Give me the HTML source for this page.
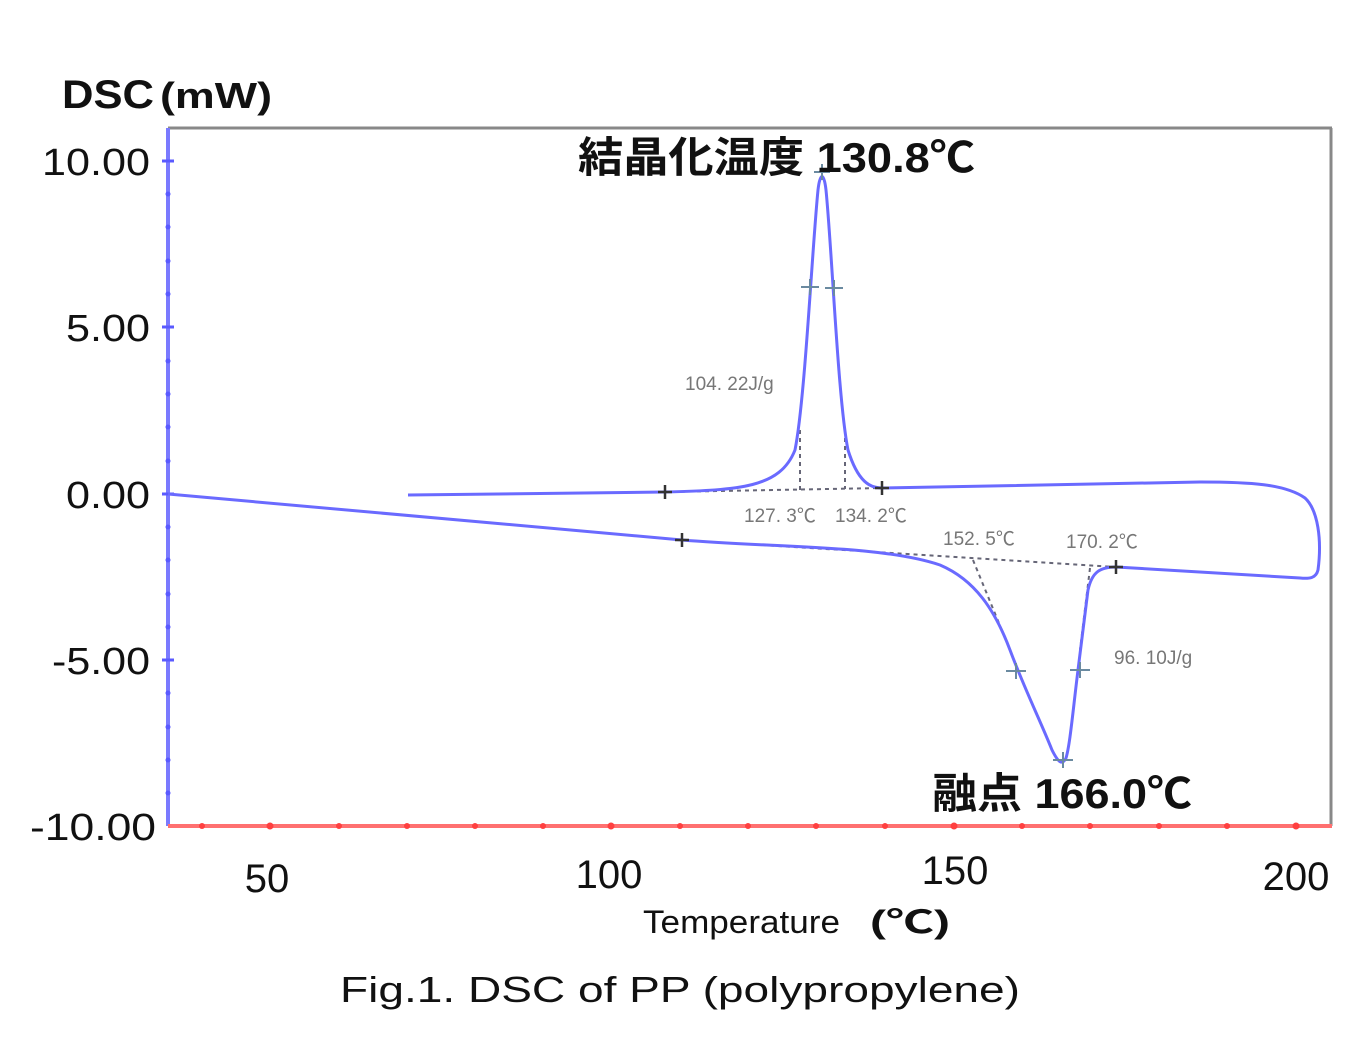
<!DOCTYPE html>
<html><head><meta charset="utf-8"><style>
html,body{margin:0;padding:0;background:#fff;}
svg{display:block;}
</style></head><body>
<svg width="1366" height="1044" viewBox="0 0 1366 1044" xmlns="http://www.w3.org/2000/svg" font-family="Liberation Sans, Noto Sans CJK JP, sans-serif">
<line x1="168" y1="128" x2="1332" y2="128" stroke="#888" stroke-width="3"/>
<line x1="1331" y1="128" x2="1331" y2="826" stroke="#888" stroke-width="3"/>
<line x1="168" y1="128" x2="168" y2="826" stroke="#7a7aff" stroke-width="4"/>
<g stroke="#5a5aff" stroke-width="3">
<line x1="162" y1="161" x2="174" y2="161"/><line x1="162" y1="327" x2="174" y2="327"/>
<line x1="162" y1="494" x2="174" y2="494"/><line x1="162" y1="660" x2="174" y2="660"/>
</g>
<g fill="#5a5aff">
<circle cx="168" cy="194" r="2.5"/><circle cx="168" cy="227" r="2.5"/><circle cx="168" cy="261" r="2.5"/><circle cx="168" cy="294" r="2.5"/>
<circle cx="168" cy="361" r="2.5"/><circle cx="168" cy="394" r="2.5"/><circle cx="168" cy="427" r="2.5"/><circle cx="168" cy="461" r="2.5"/>
<circle cx="168" cy="527" r="2.5"/><circle cx="168" cy="560" r="2.5"/><circle cx="168" cy="594" r="2.5"/><circle cx="168" cy="627" r="2.5"/>
<circle cx="168" cy="693" r="2.5"/><circle cx="168" cy="727" r="2.5"/><circle cx="168" cy="760" r="2.5"/><circle cx="168" cy="793" r="2.5"/>
</g>
<line x1="168" y1="826" x2="1332" y2="826" stroke="#ff7070" stroke-width="4"/>
<g fill="#ff4040">
<circle cx="202" cy="826" r="3"/><circle cx="270" cy="826" r="3.5"/><circle cx="339" cy="826" r="3"/><circle cx="407" cy="826" r="3"/><circle cx="475" cy="826" r="3"/><circle cx="543" cy="826" r="3"/><circle cx="611" cy="826" r="3.5"/><circle cx="680" cy="826" r="3"/><circle cx="748" cy="826" r="3"/><circle cx="816" cy="826" r="3"/><circle cx="885" cy="826" r="3"/><circle cx="954" cy="826" r="3.5"/><circle cx="1022" cy="826" r="3"/><circle cx="1090" cy="826" r="3"/><circle cx="1159" cy="826" r="3"/><circle cx="1227" cy="826" r="3"/><circle cx="1296" cy="826" r="3.5"/>
</g>
<text x="62" y="108" font-size="40" font-weight="bold" fill="#111" textLength="92" lengthAdjust="spacingAndGlyphs">DSC</text>
<text x="160" y="108" font-size="36" font-weight="bold" fill="#111" textLength="112" lengthAdjust="spacingAndGlyphs">(mW)</text>
<g font-size="38" fill="#111">
<text x="42" y="175" textLength="108" lengthAdjust="spacingAndGlyphs">10.00</text>
<text x="66" y="341" textLength="84" lengthAdjust="spacingAndGlyphs">5.00</text>
<text x="66" y="508" textLength="84" lengthAdjust="spacingAndGlyphs">0.00</text>
<text x="52" y="674" textLength="98" lengthAdjust="spacingAndGlyphs">-5.00</text>
<text x="30" y="840" textLength="126" lengthAdjust="spacingAndGlyphs">-10.00</text>
</g>
<g font-size="40" fill="#111" text-anchor="middle">
<text x="267" y="892">50</text><text x="609" y="888">100</text><text x="955" y="884">150</text><text x="1296" y="890">200</text>
</g>
<text x="643" y="933" font-size="32" fill="#111" textLength="197" lengthAdjust="spacingAndGlyphs">Temperature</text>
<text x="870" y="933" font-size="32" font-weight="bold" fill="#111" textLength="80" lengthAdjust="spacingAndGlyphs">(℃)</text>
<text x="340" y="1002" font-size="36" fill="#111" textLength="680" lengthAdjust="spacingAndGlyphs">Fig.1. DSC of PP (polypropylene)</text>
<g stroke="#667" stroke-width="2" stroke-dasharray="4,4" fill="none">
<line x1="665" y1="492" x2="882" y2="488"/>
<line x1="800" y1="430" x2="800" y2="490"/>
<line x1="845" y1="430" x2="845" y2="489"/>
<line x1="682" y1="540" x2="1116" y2="567"/>
<line x1="973" y1="560" x2="1010" y2="650"/>
<line x1="1090" y1="568" x2="1080" y2="650"/>
</g>
<path d="M408,495 L665,492 C740,490 780,488 795,450 C805,400 812,250 818,190 C820,172 824,172 826,190 C832,250 838,400 848,450 C858,482 870,488 882,488 L1200,482 C1250,482 1285,484 1305,498 C1318,510 1322,540 1318,570 C1316,578 1310,579 1300,578 L1116,567 C1100,567 1092,572 1088,590 L1078,670 C1073,710 1070,745 1066,758 C1062,766 1058,762 1052,750 C1040,720 1025,690 1010,650 C995,610 975,580 940,565 C880,545 780,548 682,540 L168,494"
 fill="none" stroke="#6a6aff" stroke-width="3"/>
<g stroke="#333" stroke-width="2.5">
<path d="M658,492h14M665,485v14"/><path d="M675,540h14M682,533v14"/><path d="M875,488h14M882,481v14"/><path d="M1109,567h14M1116,560v14"/>
</g>
<g stroke="#6a8aa0" stroke-width="2">
<path d="M801,287h18M810,279v16"/><path d="M825,288h18M834,280v16"/><path d="M814,172h16M822,164v16"/>
<path d="M1006,671h20M1016,663v16"/><path d="M1070,670h20M1080,662v16"/><path d="M1053,760h20M1063,752v16"/>
</g>
<g font-size="19" fill="#777">
<text x="685" y="390">104. 22J/g</text>
<text x="744" y="522">127. 3℃</text>
<text x="835" y="522">134. 2℃</text>
<text x="943" y="545">152. 5℃</text>
<text x="1066" y="548">170. 2℃</text>
<text x="1114" y="664">96. 10J/g</text>
</g>
<text x="578" y="172" font-size="42" font-weight="bold" fill="#111" textLength="397" lengthAdjust="spacingAndGlyphs">結晶化温度 130.8℃</text>
<text x="932" y="808" font-size="42" font-weight="bold" fill="#111" textLength="260" lengthAdjust="spacingAndGlyphs">融点 166.0℃</text>
</svg>
</body></html>
